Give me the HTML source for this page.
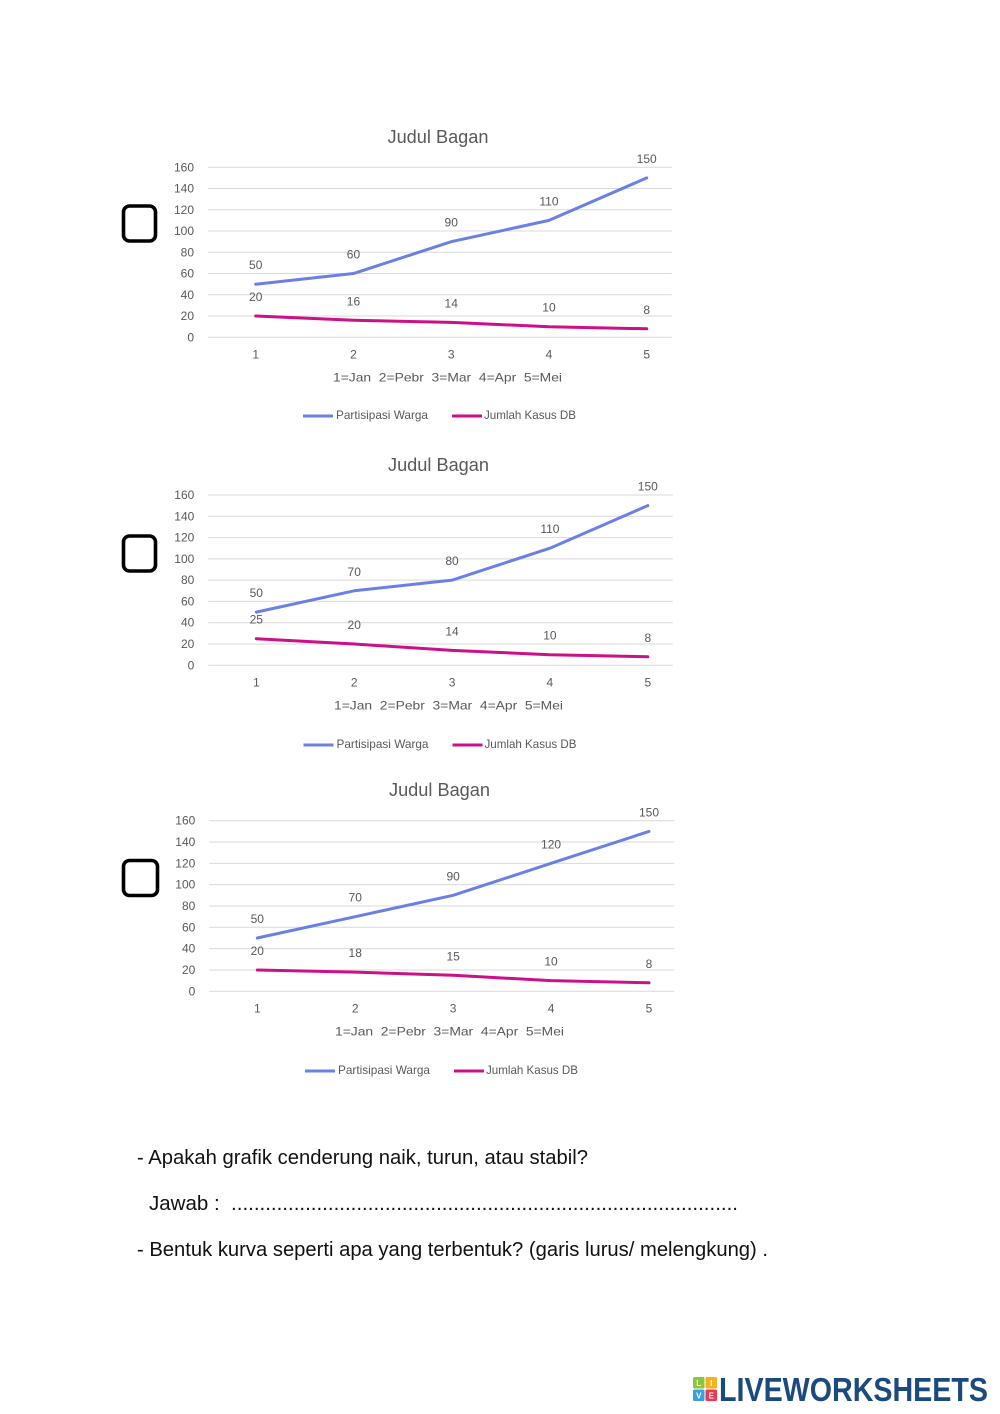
<!DOCTYPE html>
<html>
<head>
<meta charset="utf-8">
<style>
  html,body{margin:0;padding:0;background:#fff;}
  svg{display:block;}
  .ax{font-family:"Liberation Sans",Arial,sans-serif;font-size:12px;fill:#595959;}
  .ttl{font-family:"Liberation Sans",Arial,sans-serif;font-size:18px;fill:#595959;}
  .q{font-family:"Liberation Sans",Arial,sans-serif;font-size:20px;fill:#111;}
  .grid line{stroke:#d9d9d9;stroke-width:1;}
  .blue{fill:none;stroke:#6b80e4;stroke-width:3;stroke-linejoin:round;stroke-linecap:round;}
  .pink{fill:none;stroke:#cc1087;stroke-width:3;stroke-linejoin:round;stroke-linecap:round;}
  .box{fill:none;stroke:#000;stroke-width:3.6;}
</style>
</head>
<body>
<svg width="1000" height="1414" viewBox="0 0 1000 1414" xmlns="http://www.w3.org/2000/svg">
<rect width="1000" height="1414" fill="#fff"/>

<!-- ================= CHART 1 ================= -->
<rect class="box" x="123.5" y="206" width="32" height="35" rx="6"/>
<text class="ttl" x="438" y="143" text-anchor="middle" textLength="101" lengthAdjust="spacingAndGlyphs">Judul Bagan</text>
<g class="grid">
  <line x1="208" x2="671.7" y1="337.3" y2="337.3"/>
  <line x1="208" x2="671.7" y1="316.05" y2="316.05"/>
  <line x1="208" x2="671.7" y1="294.8" y2="294.8"/>
  <line x1="208" x2="671.7" y1="273.55" y2="273.55"/>
  <line x1="208" x2="671.7" y1="252.3" y2="252.3"/>
  <line x1="208" x2="671.7" y1="231.05" y2="231.05"/>
  <line x1="208" x2="671.7" y1="209.8" y2="209.8"/>
  <line x1="208" x2="671.7" y1="188.55" y2="188.55"/>
  <line x1="208" x2="671.7" y1="167.3" y2="167.3"/>
</g>
<g class="ax" text-anchor="end">
  <text x="194" y="341.3">0</text>
  <text x="194" y="320">20</text>
  <text x="194" y="298.8">40</text>
  <text x="194" y="277.5">60</text>
  <text x="194" y="256.3">80</text>
  <text x="194" y="235">100</text>
  <text x="194" y="213.8">120</text>
  <text x="194" y="192.5">140</text>
  <text x="194" y="171.3">160</text>
</g>
<polyline class="blue" points="255.7,284.2 353.45,273.55 451.2,241.7 548.95,220.4 646.7,177.9"/>
<polyline class="pink" points="255.7,316.05 353.45,320.3 451.2,322.4 548.95,326.7 646.7,328.8"/>
<g class="ax" text-anchor="middle">
  <text x="255.7" y="269.2">50</text>
  <text x="353.45" y="258.5">60</text>
  <text x="451.2" y="226.7">90</text>
  <text x="548.95" y="205.4">110</text>
  <text x="646.7" y="162.9">150</text>
  <text x="255.7" y="301">20</text>
  <text x="353.45" y="305.3">16</text>
  <text x="451.2" y="307.4">14</text>
  <text x="548.95" y="311.7">10</text>
  <text x="646.7" y="313.8">8</text>
  <text x="255.7" y="358.3">1</text>
  <text x="353.45" y="358.3">2</text>
  <text x="451.2" y="358.3">3</text>
  <text x="548.95" y="358.3">4</text>
  <text x="646.7" y="358.3">5</text>
</g>
<text class="ax" x="333" y="381.5" xml:space="preserve" textLength="229" lengthAdjust="spacingAndGlyphs">1=Jan  2=Pebr  3=Mar  4=Apr  5=Mei</text>
<line x1="303" x2="333" y1="416" y2="416" stroke="#6b80e4" stroke-width="3"/>
<text class="ax" x="336" y="419" textLength="92" lengthAdjust="spacingAndGlyphs">Partisipasi Warga</text>
<line x1="452" x2="482" y1="416" y2="416" stroke="#cc1087" stroke-width="3"/>
<text class="ax" x="484" y="419" textLength="92" lengthAdjust="spacingAndGlyphs">Jumlah Kasus DB</text>

<!-- ================= CHART 2 ================= -->
<rect class="box" x="123.5" y="536" width="32" height="35" rx="6"/>
<text class="ttl" x="438.5" y="471" text-anchor="middle" textLength="101" lengthAdjust="spacingAndGlyphs">Judul Bagan</text>
<g class="grid">
  <line x1="208.3" x2="672.8" y1="665.3" y2="665.3"/>
  <line x1="208.3" x2="672.8" y1="644" y2="644"/>
  <line x1="208.3" x2="672.8" y1="622.7" y2="622.7"/>
  <line x1="208.3" x2="672.8" y1="601.4" y2="601.4"/>
  <line x1="208.3" x2="672.8" y1="580.15" y2="580.15"/>
  <line x1="208.3" x2="672.8" y1="558.9" y2="558.9"/>
  <line x1="208.3" x2="672.8" y1="537.6" y2="537.6"/>
  <line x1="208.3" x2="672.8" y1="516.3" y2="516.3"/>
  <line x1="208.3" x2="672.8" y1="495" y2="495"/>
</g>
<g class="ax" text-anchor="end">
  <text x="194.3" y="669.3">0</text>
  <text x="194.3" y="648">20</text>
  <text x="194.3" y="626.7">40</text>
  <text x="194.3" y="605.4">60</text>
  <text x="194.3" y="584.2">80</text>
  <text x="194.3" y="562.9">100</text>
  <text x="194.3" y="541.6">120</text>
  <text x="194.3" y="520.3">140</text>
  <text x="194.3" y="499">160</text>
</g>
<polyline class="blue" points="256.3,612.1 354.2,590.8 452.05,580.15 549.9,548.2 647.8,505.6"/>
<polyline class="pink" points="256.3,638.7 354.2,644 452.05,650.4 549.9,654.7 647.8,656.8"/>
<g class="ax" text-anchor="middle">
  <text x="256.3" y="597.1">50</text>
  <text x="354.2" y="575.8">70</text>
  <text x="452.05" y="565.15">80</text>
  <text x="549.9" y="533.2">110</text>
  <text x="647.8" y="490.6">150</text>
  <text x="256.3" y="623.7">25</text>
  <text x="354.2" y="629">20</text>
  <text x="452.05" y="635.4">14</text>
  <text x="549.9" y="639.7">10</text>
  <text x="647.8" y="641.8">8</text>
  <text x="256.3" y="686.3">1</text>
  <text x="354.2" y="686.3">2</text>
  <text x="452.05" y="686.3">3</text>
  <text x="549.9" y="686.3">4</text>
  <text x="647.8" y="686.3">5</text>
</g>
<text class="ax" x="334" y="709.5" xml:space="preserve" textLength="229" lengthAdjust="spacingAndGlyphs">1=Jan  2=Pebr  3=Mar  4=Apr  5=Mei</text>
<line x1="303.5" x2="333.5" y1="745" y2="745" stroke="#6b80e4" stroke-width="3"/>
<text class="ax" x="336.5" y="748" textLength="92" lengthAdjust="spacingAndGlyphs">Partisipasi Warga</text>
<line x1="452.5" x2="482.5" y1="745" y2="745" stroke="#cc1087" stroke-width="3"/>
<text class="ax" x="484.5" y="748" textLength="92" lengthAdjust="spacingAndGlyphs">Jumlah Kasus DB</text>

<!-- ================= CHART 3 ================= -->
<rect class="box" x="123.5" y="860.5" width="34" height="35" rx="6"/>
<text class="ttl" x="439.5" y="796" text-anchor="middle" textLength="101" lengthAdjust="spacingAndGlyphs">Judul Bagan</text>
<g class="grid">
  <line x1="209.3" x2="674.3" y1="991.3" y2="991.3"/>
  <line x1="209.3" x2="674.3" y1="970" y2="970"/>
  <line x1="209.3" x2="674.3" y1="948.65" y2="948.65"/>
  <line x1="209.3" x2="674.3" y1="927.3" y2="927.3"/>
  <line x1="209.3" x2="674.3" y1="906" y2="906"/>
  <line x1="209.3" x2="674.3" y1="884.65" y2="884.65"/>
  <line x1="209.3" x2="674.3" y1="863.35" y2="863.35"/>
  <line x1="209.3" x2="674.3" y1="842" y2="842"/>
  <line x1="209.3" x2="674.3" y1="820.7" y2="820.7"/>
</g>
<g class="ax" text-anchor="end">
  <text x="195.3" y="995.3">0</text>
  <text x="195.3" y="974">20</text>
  <text x="195.3" y="952.65">40</text>
  <text x="195.3" y="931.3">60</text>
  <text x="195.3" y="910">80</text>
  <text x="195.3" y="888.65">100</text>
  <text x="195.3" y="867.35">120</text>
  <text x="195.3" y="846">140</text>
  <text x="195.3" y="824.7">160</text>
</g>
<polyline class="blue" points="257.3,938 355.2,916.7 453.15,895.3 551.05,863.35 649,831.4"/>
<polyline class="pink" points="257.3,970 355.2,972.1 453.15,975.3 551.05,980.6 649,982.8"/>
<g class="ax" text-anchor="middle">
  <text x="257.3" y="923">50</text>
  <text x="355.2" y="901.7">70</text>
  <text x="453.15" y="880.3">90</text>
  <text x="551.05" y="848.35">120</text>
  <text x="649" y="816.4">150</text>
  <text x="257.3" y="955">20</text>
  <text x="355.2" y="957.1">18</text>
  <text x="453.15" y="960.3">15</text>
  <text x="551.05" y="965.6">10</text>
  <text x="649" y="967.8">8</text>
  <text x="257.3" y="1012.3">1</text>
  <text x="355.2" y="1012.3">2</text>
  <text x="453.15" y="1012.3">3</text>
  <text x="551.05" y="1012.3">4</text>
  <text x="649" y="1012.3">5</text>
</g>
<text class="ax" x="335" y="1035.5" xml:space="preserve" textLength="229" lengthAdjust="spacingAndGlyphs">1=Jan  2=Pebr  3=Mar  4=Apr  5=Mei</text>
<line x1="305" x2="335" y1="1071" y2="1071" stroke="#6b80e4" stroke-width="3"/>
<text class="ax" x="338" y="1074" textLength="92" lengthAdjust="spacingAndGlyphs">Partisipasi Warga</text>
<line x1="454" x2="484" y1="1071" y2="1071" stroke="#cc1087" stroke-width="3"/>
<text class="ax" x="486" y="1074" textLength="92" lengthAdjust="spacingAndGlyphs">Jumlah Kasus DB</text>

<!-- ================= QUESTIONS ================= -->
<text class="q" x="137" y="1164" textLength="451" lengthAdjust="spacingAndGlyphs">- Apakah grafik cenderung naik, turun, atau stabil?</text>
<text class="q" x="149" y="1210" xml:space="preserve" textLength="589" lengthAdjust="spacingAndGlyphs">Jawab :  .........................................................................................</text>
<text class="q" x="137" y="1256" textLength="631" lengthAdjust="spacingAndGlyphs">- Bentuk kurva seperti apa yang terbentuk? (garis lurus/ melengkung) .</text>

<!-- ================= LOGO ================= -->
<g font-family="Liberation Sans, Arial, sans-serif" font-weight="bold" font-size="8" fill="#fff" text-anchor="middle">
  <rect x="693" y="1377" width="11.5" height="11.5" rx="1.5" fill="#8cc63f"/>
  <rect x="705.5" y="1377" width="11.5" height="11.5" rx="1.5" fill="#f6b21b"/>
  <rect x="693" y="1389.5" width="11.5" height="11.5" rx="1.5" fill="#3c9ee5"/>
  <rect x="705.5" y="1389.5" width="11.5" height="11.5" rx="1.5" fill="#e83a4f"/>
  <text x="698.75" y="1385.8">L</text>
  <text x="711.25" y="1385.8">I</text>
  <text x="698.75" y="1398.3">V</text>
  <text x="711.25" y="1398.3">E</text>
</g>
<text x="719" y="1401" font-family="Liberation Sans, Arial, sans-serif" font-weight="bold" font-size="33" fill="#1b4a7e" textLength="269" lengthAdjust="spacingAndGlyphs">LIVEWORKSHEETS</text>
</svg>
</body>
</html>
